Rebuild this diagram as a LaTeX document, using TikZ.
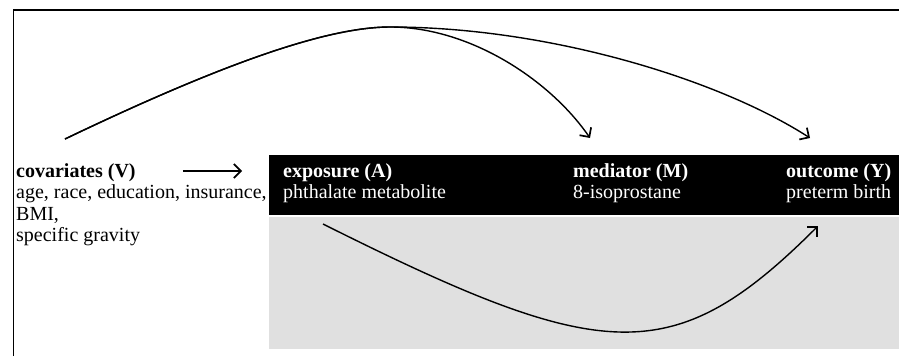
\documentclass[tikz,border=0pt]{standalone}
\usepackage{fontspec}
\setmainfont{Liberation Serif}
\usetikzlibrary{arrows.meta}
\definecolor{bandgray}{RGB}{224,224,224}
\begin{document}
\begin{tikzpicture}[x=1pt,y=-1pt,
  tip/.style={-{Straight Barb[length=7pt,width=14pt,line width=1.7pt]}},
  arr/.style={tip, line width=1.6pt},
  curve/.style={tip, line width=1.4pt},
  lbl/.style={inner sep=0pt, anchor=base west, font=\fontsize{20}{22}\selectfont},
  titlelbl/.style={lbl, font=\fontsize{20}{22}\selectfont\bfseries},
  bandlbl/.style={lbl, text=white},
  bandtitle/.style={titlelbl, text=white}]
\useasboundingbox (0,0) rectangle (899,356);
\fill[white] (0,0) rectangle (899,356);
% frame
\draw[line width=1.6pt] (13.5,356) -- (13.5,10) -- (899,10);
% band and grey area
\fill[black] (269,155) rectangle (899,215);
\fill[bandgray] (269,217) rectangle (899,349);
% covariates
\node[titlelbl] (V) at (16,177) {covariates (V)};
\node[lbl] (V1) at (16,198) {age, race, education, insurance,};
\node[lbl] (V2) at (16,220) {BMI,};
\node[lbl] (V3) at (16,241) {specific gravity};
% band labels
\node[bandtitle] (A) at (283,177) {exposure (A)};
\node[bandlbl] (A1) at (283,198) {phthalate metabolite};
\node[bandtitle] (M) at (573,177) {mediator (M)};
\node[bandlbl] (M1) at (573,198) {8-isoprostane};
\node[bandtitle] (Y) at (786,177) {outcome (Y)};
\node[bandlbl] (Y1) at (786,198) {preterm birth};
% connector coordinates
\coordinate (Vtop) at (65,139);
\coordinate (peak) at (390,27);
\coordinate (Mtop) at (590,138);
\coordinate (Ytop) at (810,138);
\coordinate (Abot) at (323,224);
\coordinate (Ybot) at (818,226);
% arrows
\draw[arr] ([xshift=47pt,yshift=6pt]V.base east) -- ([xshift=-41pt,yshift=6pt]A.base west);
\draw[curve] (Vtop) .. controls (230,60) and (330,27) .. (peak)
  .. controls (470,27) and (550,80) .. (Mtop);
\draw[curve] (Vtop) .. controls (230,60) and (330,27) .. (peak)
  .. controls (550,27) and (720,80) .. (Ytop);
\draw[curve] (Abot) .. controls (603,364) and (673,371) .. (Ybot);
\end{tikzpicture}
\end{document}
